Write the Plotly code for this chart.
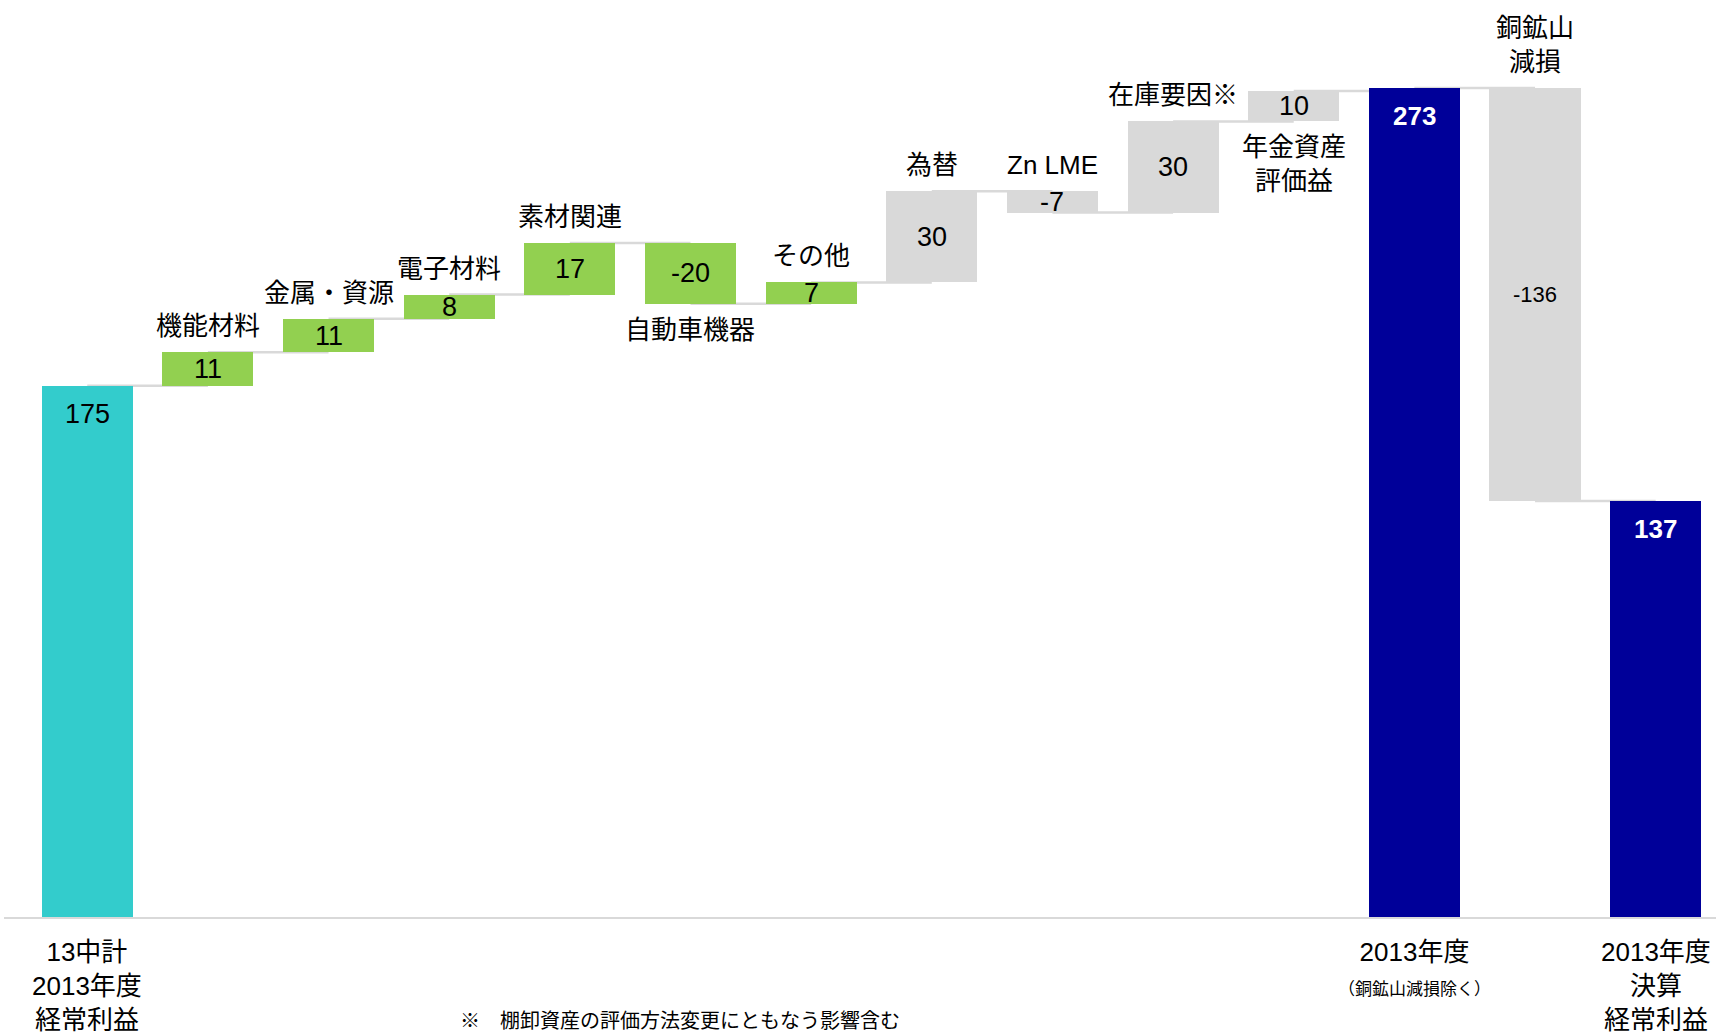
import plotly.graph_objects as go

# Ordinary profit bridge: plan -> FY2013 result (unit: 億円)
step_names = ["13中計<br>2013年度<br>経常利益", "機能材料", "金属・資源", "電子材料", "素材関連",
              "自動車機器", "その他", "為替", "Zn LME", "在庫要因※", "年金資産<br>評価益",
              "2013年度<br><span style='font-size:17px'>（銅鉱山減損除く）</span>",
              "銅鉱山<br>減損", "2013年度<br>決算<br>経常利益"]
step_values = [175, 11, 11, 8, 17, -20, 7, 30, -7, 30, 10, 273, -136, 137]
step_kinds = ["total", "delta", "delta", "delta", "delta", "delta", "delta",
              "delta", "delta", "delta", "delta", "total", "delta", "total"]
step_groups = ["plan", "segment", "segment", "segment", "segment", "segment", "segment",
               "external", "external", "external", "external", "result", "external", "result"]
label_sides = ["axis", "above", "above", "above", "above", "below", "above",
               "above", "above", "above", "below", "axis", "above", "axis"]
footnote = "※　棚卸資産の評価方法変更にともなう影響含む"

group_colors = {"plan": "#33CCCC", "segment": "#92D050", "external": "#D9D9D9", "result": "#000099"}
FONT = "Arial, 'Liberation Sans', 'Noto Sans CJK JP', sans-serif"
LINE = "#D9D9D9"

# running totals -> floating bar base/height
bases, heights, levels = [], [], []
running = 0
for v, kind in zip(step_values, step_kinds):
    if kind == "total":
        bases.append(0)
        heights.append(v)
        running = v
    else:
        bases.append(running if v >= 0 else running + v)
        heights.append(abs(v))
        running += v
    levels.append(running)

idx = list(range(len(step_values)))
colors = [group_colors[g] for g in step_groups]

fig = go.Figure()
fig.add_trace(go.Bar(
    x=idx, y=heights, base=bases, width=0.755,
    marker=dict(color=colors, line=dict(width=0)),
    hoverinfo="skip", showlegend=False,
))

# connectors between consecutive bars, drawn underneath the bars
shapes = []
for i in range(len(idx) - 1):
    shapes.append(dict(type="line", xref="x", yref="y", x0=idx[i], x1=idx[i + 1],
                       y0=levels[i], y1=levels[i], layer="below",
                       line=dict(color=LINE, width=2.5)))

annotations = []
for i, (v, kind, grp, side, name) in enumerate(zip(step_values, step_kinds, step_groups,
                                                 label_sides, step_names)):
    top = bases[i] + heights[i]
    # value labels
    if kind == "total":
        dark = grp == "result"
        annotations.append(dict(
            x=i, y=top, yshift=-28, yanchor="middle", showarrow=False,
            text=f"<b>{v}</b>" if dark else str(v),
            font=dict(size=26 if dark else 27, color="white" if dark else "black", family=FONT)))
    else:
        annotations.append(dict(
            x=i, y=bases[i] + heights[i] / 2, yanchor="middle", showarrow=False,
            text=str(v),
            font=dict(size=22 if abs(v) > 100 else 27, color="black", family=FONT)))
    # step names
    if side == "above":
        annotations.append(dict(x=i, y=top, yanchor="bottom", yshift=9, showarrow=False,
                                text=name, font=dict(size=26, color="black", family=FONT)))
    elif side == "below":
        annotations.append(dict(x=i, y=bases[i], yanchor="top", yshift=-9, showarrow=False,
                                text=name, font=dict(size=26, color="black", family=FONT)))
    else:
        annotations.append(dict(x=i, y=0, yanchor="top", yshift=-18, showarrow=False,
                                text=name, font=dict(size=26, color="black", family=FONT)))

annotations.append(dict(xref="paper", yref="paper", x=0.265, y=-0.1275,
                        xanchor="left", yanchor="bottom", showarrow=False, text=footnote,
                        font=dict(size=20, color="black", family=FONT)))

fig.update_layout(
    width=1718, height=1036,
    margin=dict(l=4, r=2, t=0, b=119),
    paper_bgcolor="white", plot_bgcolor="white",
    font=dict(family=FONT, color="black"),
    xaxis=dict(range=[-0.69, 13.5], showline=True, linecolor=LINE, linewidth=2,
               showticklabels=False, ticks="", showgrid=False, zeroline=False, fixedrange=True),
    yaxis=dict(range=[0, 302], visible=False, showgrid=False, zeroline=False, fixedrange=True),
    shapes=shapes, annotations=annotations, bargap=0,
)

fig.write_html("out.html")
